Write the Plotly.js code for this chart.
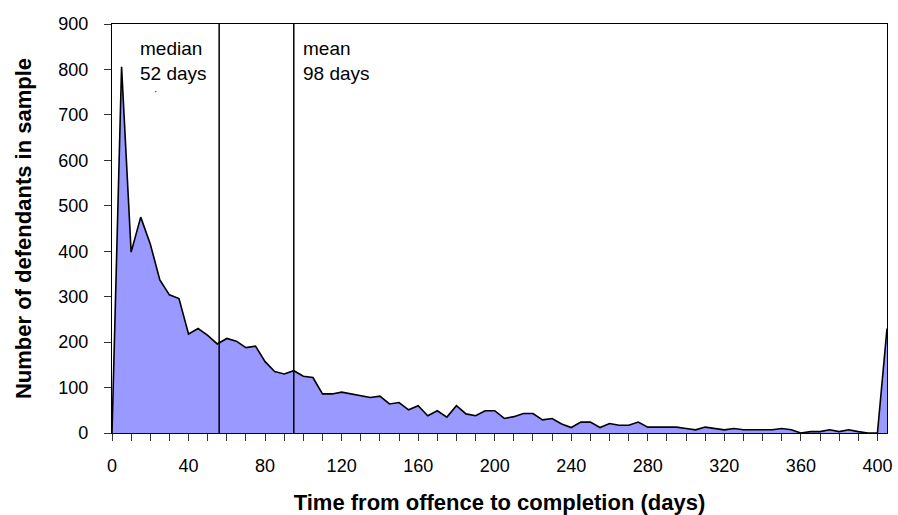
<!DOCTYPE html>
<html>
<head>
<meta charset="utf-8">
<script src="https://cdn.plot.ly/plotly-3.0.1.min.js"></script>
<style>
  html, body { margin: 0; padding: 0; background: #ffffff; }
  #chart { width: 898px; height: 515px; }
</style>
</head>
<body>
<div id="chart"></div>
<script>
// Days from offence to completion (5-day bins; last bin = over 400 days)
const days = [
  0, 5, 10, 15, 20, 25, 30, 35, 40, 45, 50, 55, 60, 65, 70, 75, 80, 85, 90, 95,
  100, 105, 110, 115, 120, 125, 130, 135, 140, 145, 150, 155, 160, 165, 170, 175, 180, 185, 190, 195,
  200, 205, 210, 215, 220, 225, 230, 235, 240, 245, 250, 255, 260, 265, 270, 275, 280, 285, 290, 295,
  300, 305, 310, 315, 320, 325, 330, 335, 340, 345, 350, 355, 360, 365, 370, 375, 380, 385, 390, 395,
  400, 405
];
// Number of defendants in sample
const defendants = [
  0, 806, 398, 475, 416, 337, 304, 296, 218, 230, 215, 196, 208, 202, 188, 191, 157, 135, 130, 137,
  125, 122, 86, 86, 90, 86, 82, 78, 81, 64, 67, 51, 60, 38, 49, 35, 60, 42, 38, 49,
  49, 32, 36, 43, 43, 29, 32, 20, 12, 24, 24, 12, 21, 17, 17, 24, 13, 13, 13, 13,
  10, 7, 13, 10, 7, 10, 7, 7, 7, 7, 10, 7, 0, 3, 3, 7, 3, 7, 3, 0,
  0, 230
];
// Reference lines (median / mean) as drawn on the category axis
const refLineDays = [56, 95];
const refLabels = ["median<br>52 days", "mean<br>98 days"];
const refLabelDays = [13.6, 98.6];

// X tick marks every 10 days, labels every 40
const xTickVals = [];
const xTickText = [];
for (let d = 0; d <= 400; d += 10) {
  xTickVals.push(d);
  xTickText.push(d % 40 === 0 ? String(d) : "");
}
const yTickVals = [0, 100, 200, 300, 400, 500, 600, 700, 800, 900];

const traces = [{
  type: "scatter",
  mode: "lines",
  x: days,
  y: defendants,
  fill: "tozeroy",
  fillcolor: "#9999ff",
  line: { color: "#000000", width: 1.6 },
  hoverinfo: "x+y",
  showlegend: false
}];

const shapes = refLineDays.map(d => ({
  type: "line", xref: "x", yref: "y",
  x0: d, x1: d, y0: 0, y1: 900,
  line: { color: "#000000", width: 1.5 }
}));

const annotations = refLabels.map((t, i) => ({
  x: refLabelDays[i], y: 874, xref: "x", yref: "y",
  xanchor: "left", yanchor: "top", align: "left",
  text: t, showarrow: false,
  font: { family: "Liberation Sans, Arial, sans-serif", size: 19, color: "#000000" }
}));
annotations.push({
  x: 22.5, y: 752, xref: "x", yref: "y", text: "·", showarrow: false,
  font: { family: "Liberation Sans, Arial, sans-serif", size: 10, color: "#000000" }
});

const layout = {
  width: 898, height: 515,
  margin: { l: 112, r: 11, t: 24, b: 82 },
  paper_bgcolor: "#ffffff",
  plot_bgcolor: "#ffffff",
  font: { family: "Liberation Sans, Arial, sans-serif", size: 18, color: "#000000" },
  showlegend: false,
  xaxis: {
    range: [0, 405],
    tickmode: "array", tickvals: xTickVals, ticktext: xTickText,
    ticks: "outside", ticklen: 7, tickwidth: 1, tickcolor: "#333333",
    ticklabelstandoff: 9,
    showgrid: false, zeroline: false,
    showline: true, linecolor: "#000000", linewidth: 1.2, mirror: true,
    tickfont: { size: 18 },
    title: {
      text: "Time from offence to completion (days)",
      font: { family: "Liberation Sans, Arial, sans-serif", size: 22, weight: "bold" },
      standoff: 20
    }
  },
  yaxis: {
    range: [0, 900],
    tickmode: "array", tickvals: yTickVals,
    ticks: "outside", ticklen: 7, tickwidth: 1, tickcolor: "#333333",
    ticklabelstandoff: 12,
    showgrid: false, zeroline: false,
    showline: true, linecolor: "#000000", linewidth: 1.2, mirror: true,
    tickfont: { size: 18 },
    title: {
      text: "Number of defendants in sample",
      font: { family: "Liberation Sans, Arial, sans-serif", size: 22, weight: "bold" },
      standoff: 20
    }
  },
  shapes: shapes,
  annotations: annotations
};

Plotly.newPlot("chart", traces, layout, { displayModeBar: false, staticPlot: true });
</script>
</body>
</html>
